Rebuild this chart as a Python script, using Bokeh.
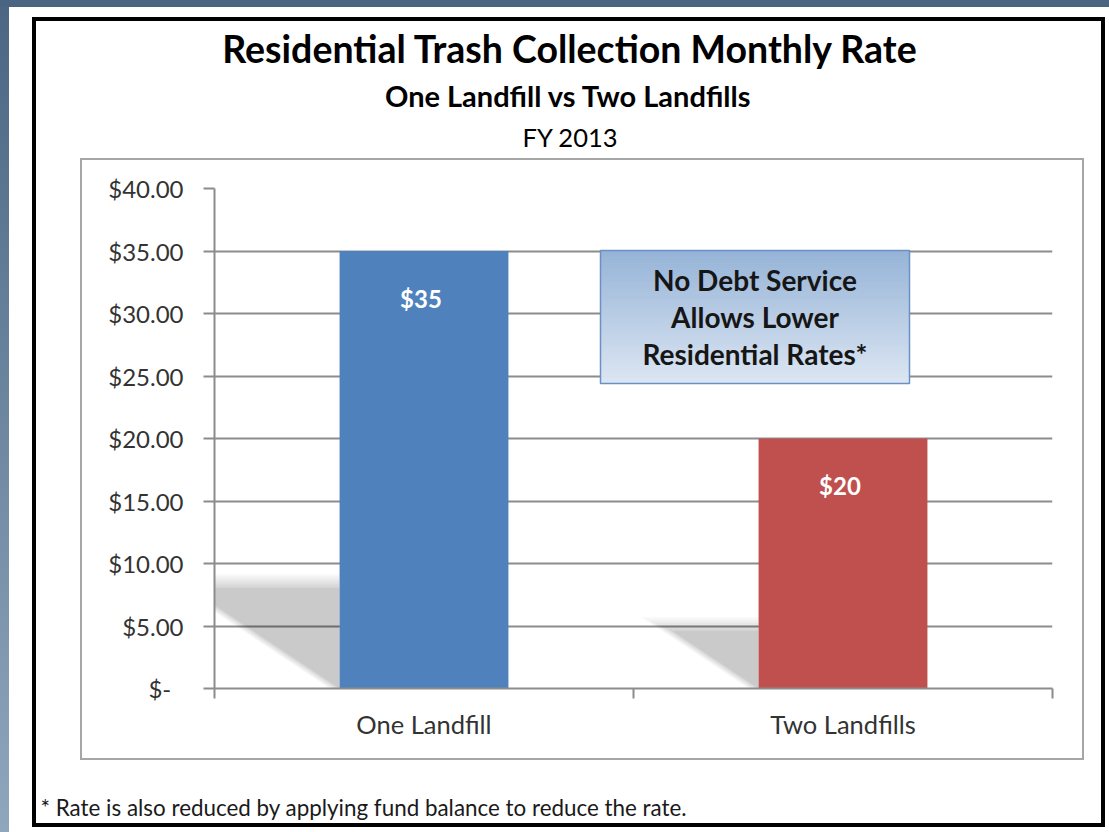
import numpy as np
from bokeh.plotting import figure
from bokeh.layouts import column
from bokeh.models import Range1d, FixedTicker, GlobalInlineStyleSheet
from bokeh.core.properties import value
from bokeh.embed import file_html
from bokeh.resources import INLINE

# ---------------- data ----------------
categories = ["One Landfill", "Two Landfills"]
rates = [35, 20]
bar_labels = ["$35", "$20"]
bar_colors = ["#4f81bd", "#c0504d"]
ytick_values = [0, 5, 10, 15, 20, 25, 30, 35, 40]
ytick_labels = ["$-\u00a0\u00a0", "$5.00", "$10.00", "$15.00", "$20.00",
                "$25.00", "$30.00", "$35.00", "$40.00"]
title_text = "Residential Trash Collection Monthly Rate"
subtitle_text = "One Landfill vs Two Landfills"
period_text = "FY 2013"
callout_lines = ["No Debt Service", "Allows Lower", "Residential Rates*"]
footnote_text = "* Rate is also reduced by applying fund balance to reduce the rate."

# ---------------- layout (page pixels) ----------------
FONT = "Lato"
PAGE_W, PAGE_H = 1109, 832
TOP_H = 156                      # title strip
FR_L, FR_R, FR_T, FR_B = 214, 1052, 188, 688   # plot frame
CHART_BOT = 760
BOT_H = PAGE_H - CHART_BOT       # footnote strip
GRID = "#8c8c8c"
TXT = "#333333"


def no_align(f):
    if "frame_align" in f.properties():
        f.frame_align = False


def plain_fig(h, y0):
    f = figure(width=PAGE_W, height=h, x_range=Range1d(0, PAGE_W),
               y_range=Range1d(y0 + h, y0), x_axis_type=None, y_axis_type=None,
               output_backend="svg", toolbar_location=None, min_border=0)
    f.grid.visible = False
    f.outline_line_color = None
    f.border_fill_color = None
    f.background_fill_color = None
    f.title.visible = False
    no_align(f)
    return f


# ---------------- title strip ----------------
ft = plain_fig(TOP_H, 0)
ft.text(x=[570, 568, 570], y=[48, 95, 136], text=[title_text, subtitle_text, period_text],
        text_align="center", text_baseline="middle", text_color="black",
        text_font=value(FONT), text_font_style=["bold", "bold", "normal"],
        text_font_size=["37.5px", "29px", "25.5px"])

# ---------------- chart ----------------
n = len(categories)
centers = [i + 0.5 for i in range(n)]
boundaries = [float(i) for i in range(n + 1)]
bar_w = 0.403

p = figure(width=PAGE_W, height=CHART_BOT - TOP_H, x_range=Range1d(0, n), y_range=Range1d(0, 40),
           output_backend="svg", toolbar_location=None,
           min_border_left=FR_L, min_border_right=PAGE_W - FR_R,
           min_border_top=FR_T - TOP_H, min_border_bottom=CHART_BOT - FR_B)
p.title.visible = False
p.outline_line_color = None
p.background_fill_color = None
p.border_fill_color = None
no_align(p)

# page-pixel coordinate ranges for in-frame decorations
p.extra_x_ranges = {"px": Range1d(FR_L, FR_R)}
p.extra_y_ranges = {"py": Range1d(FR_B, FR_T)}

yax = p.yaxis[0]
yax.ticker = FixedTicker(ticks=ytick_values)
yax.major_label_overrides = {v: s for v, s in zip(ytick_values, ytick_labels)}
yax.axis_line_color = GRID
yax.axis_line_width = 2
yax.major_tick_line_color = GRID
yax.major_tick_line_width = 2
yax.major_tick_out = 11
yax.major_tick_in = 0
yax.minor_tick_line_color = None
yax.major_label_standoff = 20
yax.major_label_text_font = FONT
yax.major_label_text_font_size = "24px"
yax.major_label_text_color = TXT

xax = p.xaxis[0]
xax.ticker = FixedTicker(ticks=centers, minor_ticks=boundaries)
xax.major_label_overrides = {c: s for c, s in zip(centers, categories)}
xax.axis_line_color = GRID
xax.axis_line_width = 2
xax.major_tick_line_color = None
xax.major_tick_out = 0
xax.major_tick_in = 0
xax.minor_tick_line_color = GRID
xax.minor_tick_line_width = 2
xax.minor_tick_out = 10
xax.minor_tick_in = 0
xax.major_label_standoff = 10
xax.major_label_text_font = FONT
xax.major_label_text_font_size = "25.5px"
xax.major_label_text_color = TXT

p.xgrid.grid_line_color = None
p.ygrid.grid_line_color = GRID
p.ygrid.grid_line_width = 2

# soft bar shadows
px_per_y = (FR_B - FR_T) / 40.0
px_per_x = (FR_R - FR_L) / n
for j in range(7, -1, -1):
    xs, ys = [], []
    for c, v in zip(centers, rates):
        left = c - bar_w / 2
        h = 0.23 * v + j * 2.0 / px_per_y
        dx = 1.5 * h * px_per_y / px_per_x + j * 1.5 / px_per_x
        xs.append([left, left, left - dx, left - j * 1.5 / px_per_x])
        ys.append([0, h, h, 0])
    p.patches(xs, ys, fill_color="black", fill_alpha=0.022 if j > 0 else 0.05,
              line_color=None)

# bars and value labels
p.vbar(x=centers, top=rates, width=bar_w, fill_color=bar_colors, line_color=None)
p.text(x=centers, y=rates, text=bar_labels, y_offset=47, x_offset=-3,
       text_align="center", text_baseline="middle", text_color="white",
       text_font=value(FONT), text_font_style="bold", text_font_size="24px")

# callout box with vertical gradient
bx0, bx1, by0, by1 = 600, 909, 250, 383
nstrip = 60
edges = np.linspace(by0, by1, nstrip + 1)
c_top = np.array([0x95, 0xb3, 0xd7])
c_bot = np.array([0xdc, 0xe6, 0xf2])
cols = []
for k in range(nstrip):
    t = (k + 0.5) / nstrip
    c = (c_top * (1 - t) + c_bot * t).round().astype(int)
    cols.append("#%02x%02x%02x" % tuple(c))
p.quad(left=[bx0] * nstrip, right=[bx1] * nstrip, top=list(edges[:-1]), bottom=list(edges[1:]),
       fill_color=cols, line_color=cols, line_width=1, x_range_name="px", y_range_name="py")
p.quad(left=[bx0], right=[bx1], top=[by0], bottom=[by1], fill_color=None,
       line_color="#6b90c4", line_width=1.5, x_range_name="px", y_range_name="py")
p.text(x=[754.5] * 3, y=[279, 316, 353], text=callout_lines, text_align="center",
       text_baseline="middle", text_color="#161616", text_font=value(FONT),
       text_font_style="bold", text_font_size="28px", x_range_name="px", y_range_name="py")

# ---------------- footnote strip ----------------
fb = plain_fig(BOT_H, CHART_BOT)
fb.text(x=[40], y=[807], text=[footnote_text], text_align="left", text_baseline="middle",
        text_color="#1a1a1a", text_font=value(FONT), text_font_size="22.4px")

layout = column(ft, p, fb, spacing=0)

layout.stylesheets = [GlobalInlineStyleSheet(css=(
    "html{background:"
    "linear-gradient(#4a6581,#4a6581) 0 0/100% 7px no-repeat,"
    "linear-gradient(#4b6683,#90a6bd) 0 0/9px 100% no-repeat,#ffffff;}"
    "body{background:transparent;}"
    "body::before{content:'';position:absolute;left:32px;top:17px;width:1073px;height:810px;"
    "box-sizing:border-box;border:4px solid #000;z-index:10;pointer-events:none;}"
    "body::after{content:'';position:absolute;left:80px;top:158px;width:1004px;height:602px;"
    "box-sizing:border-box;border:2px solid #a6a6a6;z-index:10;pointer-events:none;}"))]

open("out.html", "w").write(file_html(layout, INLINE))
